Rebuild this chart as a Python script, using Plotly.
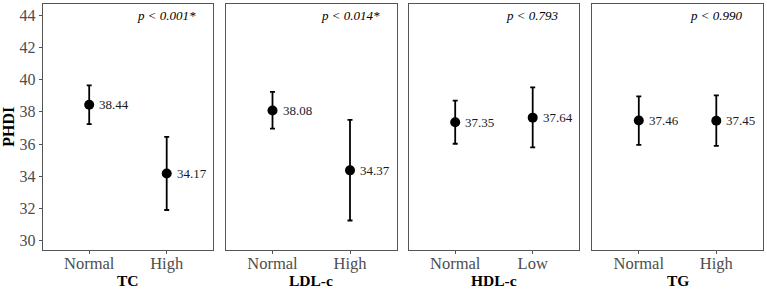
import plotly.graph_objects as go

panels = ["TC", "LDL-c", "HDL-c", "TG"]
categories = [["Normal", "High"], ["Normal", "High"], ["Normal", "Low"], ["Normal", "High"]]
means = [[38.44, 34.17], [38.08, 34.37], [37.35, 37.64], [37.46, 37.45]]
upper = [[39.64, 36.45], [39.24, 37.50], [38.70, 39.52], [38.96, 39.02]]
lower = [[37.24, 31.91], [36.96, 31.26], [36.02, 35.80], [35.95, 35.89]]
pvals = ["p < 0.001*", "p < 0.014*", "p < 0.793", "p < 0.990"]
yticks = [30, 32, 34, 36, 38, 40, 42, 44]

W, H = 767, 289
px_left = [42.7, 226.0, 408.7, 592.3]
pw = 170.5
top_px, bot_px = 3.5, 250.0
FONT = "Liberation Serif, Times New Roman, serif"

fig = go.Figure()
annotations = []
layout = {}
for i, name in enumerate(panels):
    ax = "" if i == 0 else str(i + 1)
    xref = "x" + ax
    yref = "y" + ax
    fig.add_trace(go.Scatter(
        x=categories[i], y=means[i], mode="markers",
        marker=dict(color="black", size=10),
        error_y=dict(type="data", symmetric=False,
                     array=[u - m for u, m in zip(upper[i], means[i])],
                     arrayminus=[m - l for l, m in zip(lower[i], means[i])],
                     color="black", thickness=1.8, width=2.5),
        xaxis=xref, yaxis=yref, showlegend=False, cliponaxis=False,
    ))
    dom = [px_left[i] / W, (px_left[i] + pw) / W]
    layout["xaxis" + ax] = dict(
        domain=dom, type="category", categoryorder="array", categoryarray=categories[i],
        range=[-0.6, 1.6], showline=True, mirror=True, linecolor="#555555", linewidth=1,
        ticks="outside", ticklen=3, tickcolor="#555555", showgrid=False, zeroline=False,
        ticklabelstandoff=-5,
        tickfont=dict(family=FONT, size=16.5, color="#4d4d4d"), anchor=yref,
    )
    layout["yaxis" + ax] = dict(
        domain=[1 - bot_px / H, 1 - top_px / H], range=[29.43, 44.72],
        tickvals=yticks, showline=True, mirror=True, linecolor="#555555", linewidth=1,
        ticks="outside" if i == 0 else "", ticklen=3, tickcolor="#555555",
        showticklabels=(i == 0), showgrid=False, zeroline=False,
        tickfont=dict(family=FONT, size=16, color="#4d4d4d"), anchor=xref,
    )
    for c, m in zip(categories[i], means[i]):
        annotations.append(dict(
            x=c, y=m, xref=xref, yref=yref, text=f"{m:.2f}", showarrow=False,
            xanchor="left", yanchor="middle", xshift=8,
            font=dict(family=FONT, size=13, color="#1a1a1a"),
        ))
    annotations.append(dict(
        x=categories[i][1], y=44, xref=xref, yref=yref, text="<i>" + pvals[i] + "</i>",
        showarrow=False, xanchor="center", yanchor="middle",
        font=dict(family=FONT, size=13, color="black"),
    ))
    annotations.append(dict(
        x=(px_left[i] + pw / 2) / W, y=1 - 280 / H, xref="paper", yref="paper",
        text="<b>" + name + "</b>", showarrow=False, xanchor="center", yanchor="middle",
        font=dict(family=FONT, size=15.5, color="black"),
    ))

annotations.append(dict(
    x=9 / W, y=1 - (top_px + bot_px) / 2 / H, xref="paper", yref="paper",
    text="<b>PHDI</b>", showarrow=False, textangle=-90, xanchor="center", yanchor="middle",
    font=dict(family=FONT, size=16, color="black"),
))

fig.update_layout(
    width=W, height=H, margin=dict(l=0, r=0, t=0, b=0),
    paper_bgcolor="white", plot_bgcolor="white",
    annotations=annotations, **layout,
)
fig.write_html("out.html")
